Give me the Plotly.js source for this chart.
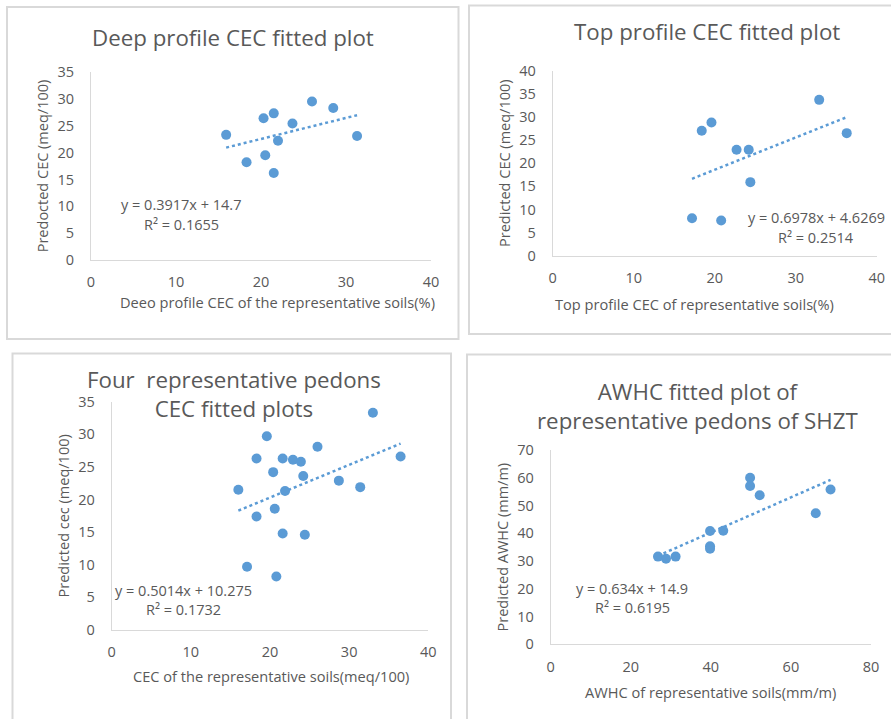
<!DOCTYPE html>
<html>
<head>
<meta charset="utf-8">
<script src="https://cdn.plot.ly/plotly-3.0.1.min.js"></script>
<style>html,body{margin:0;padding:0;background:#fff;}#chart{width:891px;height:719px;}</style>
</head>
<body>
<div id="chart"></div>
<script>
// ---- Data ----
const deepX = [15.9, 18.3, 20.3, 20.5, 21.5, 21.5, 22.0, 23.7, 26.0, 28.5, 31.3];
const deepY = [23.3, 18.2, 26.4, 19.5, 27.3, 16.2, 22.2, 25.4, 29.5, 28.3, 23.1];
const deepFit = [0.3917, 14.7];

const topX = [17.2, 18.4, 19.6, 20.8, 22.7, 24.2, 24.4, 32.9, 36.3];
const topY = [8.1, 27.0, 28.8, 7.6, 22.9, 22.9, 15.9, 33.7, 26.5];
const topFit = [0.6978, 4.6269];

const fourX = [16.0, 17.1, 18.3, 18.3, 19.6, 20.4, 20.6, 20.8, 21.6, 21.6, 21.9, 22.9, 23.9, 24.2, 24.4, 26.0, 28.7, 31.4, 33.0, 36.5];
const fourY = [21.5, 9.7, 26.3, 17.4, 29.7, 24.2, 18.6, 8.2, 26.3, 14.8, 21.3, 26.1, 25.8, 23.6, 14.6, 28.1, 22.9, 21.9, 33.3, 26.6];
const fourFit = [0.5014, 10.275];

const awhcX = [26.8, 28.8, 31.2, 39.8, 39.8, 39.8, 43.1, 49.8, 49.8, 52.2, 66.2, 69.9];
const awhcY = [31.6, 30.8, 31.6, 40.8, 35.3, 34.4, 40.9, 60.0, 57.0, 53.7, 47.2, 55.8];
const awhcFit = [0.634, 14.9];

const panelTitles = [
  "Deep profile CEC fitted plot",
  "Top profile CEC fitted plot",
  "Four\u00a0 representative pedons<br>CEC fitted plots",
  "AWHC fitted plot of<br>representative pedons of SHZT"
];
const xTitles = [
  "Deeo profile CEC of the representative soils(%)",
  "Top profile CEC of representative soils(%)",
  "CEC of the representative soils(meq/100)",
  "AWHC of representative soils(mm/m)"
];
const yTitles = [
  "Predocted CEC (meq/100)",
  "Predicted CEC (meq/100)",
  "Predicted cec (meq/100)",
  "Predicted AWHC (mm/m)"
];
const eqTexts = [
  ["y = 0.3917x + 14.7", "R\u00b2 = 0.1655"],
  ["y = 0.6978x + 4.6269", "R\u00b2 = 0.2514"],
  ["y = 0.5014x + 10.275", "R\u00b2 = 0.1732"],
  ["y = 0.634x + 14.9", "R\u00b2 = 0.6195"]
];

// ---- Layout helpers (pixel -> paper) ----
const W = 891, H = 719;
const px = v => v / W;
const py = v => 1 - v / H;

const BLUE = '#5B9BD5';
const TXT = '#595959';
const FONT = '"Open Sans", "DejaVu Sans", sans-serif';

const sets = [
  {x: deepX, y: deepY, fit: deepFit, xr: [0, 40], yr: [0, 35], xd: [91, 431], yd: [260, 72], xdt: 10, ydt: 5},
  {x: topX, y: topY, fit: topFit, xr: [0, 40], yr: [0, 40], xd: [552.7, 876.7], yd: [255.7, 70.7], xdt: 10, ydt: 5},
  {x: fourX, y: fourY, fit: fourFit, xr: [0, 40], yr: [0, 35], xd: [111.7, 428.3], yd: [630, 401.7], xdt: 10, ydt: 5},
  {x: awhcX, y: awhcY, fit: awhcFit, xr: [0, 80], yr: [0, 70], xd: [550.7, 871], yd: [644.3, 450], xdt: 20, ydt: 10}
];

const traces = [];
const layout = {
  width: W, height: H,
  margin: {l: 0, r: 0, t: 0, b: 0},
  paper_bgcolor: '#fff', plot_bgcolor: 'rgba(0,0,0,0)',
  showlegend: false,
  font: {family: FONT, color: TXT},
  shapes: [], annotations: []
};

sets.forEach((s, i) => {
  const n = i + 1;
  const xa = 'x' + (n === 1 ? '' : n), ya = 'y' + (n === 1 ? '' : n);
  const xmin = Math.min(...s.x), xmax = Math.max(...s.x);
  traces.push({
    type: 'scatter', mode: 'lines', xaxis: xa, yaxis: ya,
    x: [xmin, xmax], y: [s.fit[0] * xmin + s.fit[1], s.fit[0] * xmax + s.fit[1]],
    line: {color: BLUE, width: 2.5, dash: 'dot'}, hoverinfo: 'skip'
  });
  traces.push({
    type: 'scatter', mode: 'markers', xaxis: xa, yaxis: ya,
    x: s.x, y: s.y, cliponaxis: false,
    marker: {color: BLUE, size: 10, line: {width: 0}}
  });
  const axBase = {
    showgrid: false, zeroline: false, showline: true, linecolor: '#d9d9d9', linewidth: 1,
    ticks: '', tickfont: {size: 14.5, color: TXT, family: FONT}, fixedrange: true, automargin: false
  };
  layout['xaxis' + (n === 1 ? '' : n)] = Object.assign({}, axBase, {
    domain: [px(s.xd[0]), px(s.xd[1])], range: s.xr, dtick: s.xdt, tick0: 0,
    anchor: ya, ticklabelstandoff: 9
  });
  layout['yaxis' + (n === 1 ? '' : n)] = Object.assign({}, axBase, {
    domain: [py(s.yd[0]), py(s.yd[1])], range: s.yr, dtick: s.ydt, tick0: 0,
    anchor: xa, ticklabelstandoff: 13,
    title: {text: yTitles[i], font: {size: 14.5, color: TXT, family: FONT}, standoff: 5}
  });
});

// Panel frames
const frames = [[7, 7, 458.5, 339], [469, 5.5, 895, 334], [12.5, 353.5, 451, 725], [467, 354.5, 895, 725]];
frames.forEach(f => layout.shapes.push({
  type: 'rect', xref: 'paper', yref: 'paper',
  x0: px(f[0]), x1: px(f[2]), y0: py(f[3]), y1: py(f[1]),
  line: {color: '#d9d9d9', width: 2}, fillcolor: 'rgba(0,0,0,0)', layer: 'below'
}));

// Panel titles
const titlePos = [[233, 37], [706.7, 31.7], [234, 393.5], [698, 405.5]];
panelTitles.forEach((t, i) => layout.annotations.push({
  xref: 'paper', yref: 'paper', x: px(titlePos[i][0]), y: py(titlePos[i][1]),
  xanchor: 'center', yanchor: 'middle', showarrow: false, text: t,
  font: {size: 22.3, color: TXT, family: FONT}
}));

// X axis titles (placed as in the reference, not centred on the axis)
const xTitlePos = [[277, 301.7], [694, 304], [271, 676], [710, 691.7]];
xTitles.forEach((t, i) => layout.annotations.push({
  xref: 'paper', yref: 'paper', x: px(xTitlePos[i][0]), y: py(xTitlePos[i][1]),
  xanchor: 'center', yanchor: 'middle', showarrow: false, text: t,
  font: {size: 14.6, color: TXT, family: FONT}
}));

// Trendline equations
const eqPos = [[181, 205, 224], [816, 217, 237], [183, 590, 609], [632, 588, 607]];
eqTexts.forEach((e, i) => {
  layout.annotations.push({xref: 'paper', yref: 'paper', x: px(eqPos[i][0]), y: py(eqPos[i][1]),
    xanchor: 'center', yanchor: 'middle', showarrow: false, text: e[0], font: {size: 14.5, color: TXT, family: FONT}});
  layout.annotations.push({xref: 'paper', yref: 'paper', x: px(eqPos[i][0]), y: py(eqPos[i][2]),
    xanchor: 'center', yanchor: 'middle', showarrow: false, text: e[1], font: {size: 14.5, color: TXT, family: FONT}});
});

Plotly.newPlot('chart', traces, layout, {staticPlot: true, displayModeBar: false});
</script>
</body>
</html>
